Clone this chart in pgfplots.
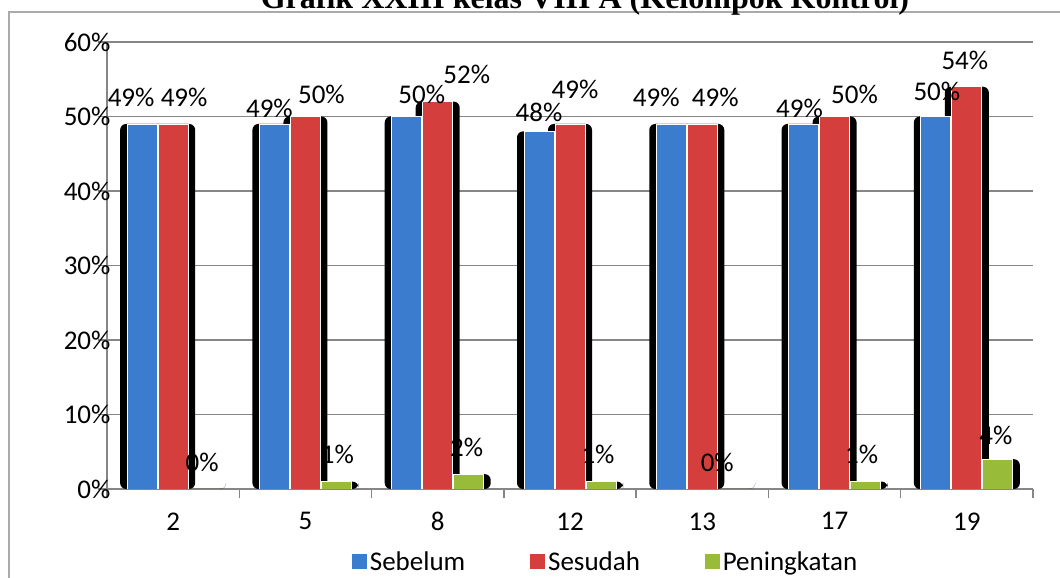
\documentclass[border=0pt]{standalone}
\usepackage{pgfplots}
\usepackage{pgfplotstable}
\pgfplotsset{compat=1.18}
\usepackage{fontspec}
\setmainfont{Carlito}
\newfontfamily\titlefont{Liberation Serif}
\definecolor{cBlue}{RGB}{60,124,206}
\definecolor{cRed}{RGB}{212,62,60}
\definecolor{cGreen}{RGB}{152,188,58}
\definecolor{cAxis}{RGB}{134,134,134}
\newcommand{\lbl}{\fontsize{27}{32}\selectfont}

% x = category index, y = value, dx/dy = label offset from bar top (pt)
\pgfplotstableread{
x y  dx  dy
0 49 -11 27
1 49 -5  16
2 50 15  22
3 48 0   19
4 49 -15 27
5 49 -4  16
6 50 1   25
}\sebelum
\pgfplotstableread{
x y  dx  dy
0 49 11  27
1 50 16  22
2 52 29  27
3 49 5   35
4 49 13  27
5 50 20  22
6 54 -2  26
}\sesudah
\pgfplotstableread{
x y dx dy
0 0 -2 27
1 1 1  27
2 2 -2 27
3 1 -3 27
4 0 -16 27
5 1 -4 27
6 4 -2 24
}\peningkatan

\begin{document}
\begin{tikzpicture}
% chart frame
\draw[cAxis!70, line width=1.5pt] (9pt,-20pt) rectangle (1090pt,566pt);
\node[font=\titlefont\bfseries\fontsize{32}{36}\selectfont, anchor=base] at (585pt,569pt)
  {Grafik XXIII kelas VIII A (Kelompok Kontrol)};
\begin{axis}[
    at={(107pt,89pt)}, anchor=south west,
    scale only axis, width=926pt, height=447pt,
    ybar,
    xmin=-0.5, xmax=6.5, ymin=0, ymax=60,
    axis x line=bottom, axis y line=left,
    axis line style={-, draw=cAxis, line width=1.5pt},
    xtick={0,...,6}, xticklabels={2,5,8,12,13,17,19},
    major x tick style={draw=none},
    minor xtick={-0.5,0.5,...,6.5},
    minor tick length=9pt,
    minor x tick style={draw=cAxis, line width=1.5pt},
    ytick={0,10,...,60},
    yticklabel={\pgfmathprintnumber{\tick}\%},
    major tick length=9pt,
    tick align=outside,
    y tick style={draw=cAxis, line width=1.5pt},
    ymajorgrids, major grid style={draw=cAxis, line width=1.5pt},
    ticklabel style={font=\lbl},
    xticklabel style={yshift=-11pt},
    yticklabel style={xshift=16pt},
    /pgf/number format/assume math mode=true,
    legend columns=3,
    legend style={at={(0.538,-0.163)}, anchor=center, draw=none, font=\lbl,
      /tikz/every even column/.append style={column sep=62pt}},
    legend image code/.code={\fill[#1] (0pt,-8pt) rectangle (16pt,8pt);},
    bar width=30pt,
]
% shadows
\addplot[bar width=44pt, bar shift=-31pt, fill=black, draw=none, rounded corners=6pt, forget plot]
  table[x=x, y=y] {\sebelum};
\addplot[bar width=44pt, bar shift=0pt, fill=black, draw=none, rounded corners=6pt, forget plot]
  table[x=x, y=y] {\sesudah};
\addplot[bar width=44pt, bar shift=31pt, fill=black, draw=none, rounded corners=6pt, forget plot]
  table[x=x, y=y] {\peningkatan};
% bars with labels
\pgfplotsset{
  lblbars/.style={
    draw=white, line width=0.8pt,
    point meta=y,
    visualization depends on={\thisrow{dx} \as \ldx},
    visualization depends on={\thisrow{dy} \as \ldy},
    nodes near coords={\pgfmathprintnumber{\pgfplotspointmeta}\%},
    every node near coord/.append style={font=\lbl, anchor=center,
      xshift=\ldx pt, yshift=\ldy pt, inner sep=0pt},
  },
}
\addplot[lblbars, bar shift=-31pt, fill=cBlue] table[x=x, y=y] {\sebelum};
\addlegendentry{Sebelum}
\addplot[lblbars, bar shift=0pt, fill=cRed] table[x=x, y=y] {\sesudah};
\addlegendentry{Sesudah}
\addplot[lblbars, bar shift=31pt, fill=cGreen] table[x=x, y=y] {\peningkatan};
\addlegendentry{Peningkatan}
\end{axis}
\pgfresetboundingbox
\useasboundingbox (0pt,0pt) rectangle (1060pt,578pt);
\end{tikzpicture}
\end{document}
